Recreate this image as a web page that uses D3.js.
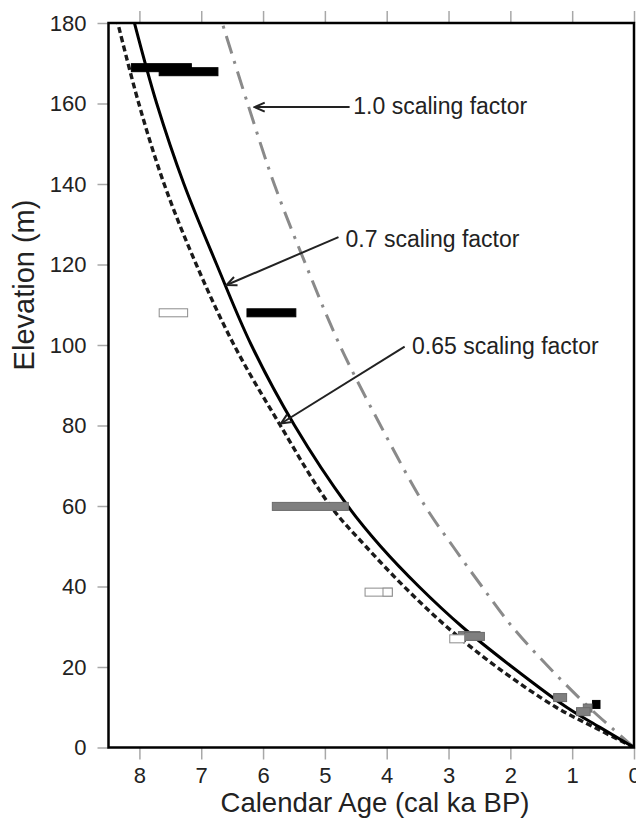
<!DOCTYPE html>
<html>
<head>
<meta charset="utf-8">
<script src="https://cdn.jsdelivr.net/npm/d3@7"></script>
<style>
  body { margin: 0; background: #fff; }
  svg { display: block; font-family: "Liberation Sans", Arial, sans-serif; }
</style>
</head>
<body>
<svg id="chart" width="636" height="827"></svg>
<script>
// uplift curves: age (cal ka BP) reached at each elevation
var curveElev = [0, 5, 10, 20, 30, 40, 50, 60, 80, 100, 120, 140, 160, 180];
var age065 = [0, 0.64, 1.26, 2.22, 3.03, 3.72, 4.34, 4.91, 5.72, 6.47, 7.08, 7.60, 8.01, 8.35];
var age070 = [0, 0.55, 1.09, 1.97, 2.78, 3.48, 4.10, 4.63, 5.49, 6.19, 6.75, 7.28, 7.72, 8.08];
var age100 = [0, 0.37, 0.73, 1.38, 1.97, 2.46, 2.93, 3.38, 4.10, 4.76, 5.31, 5.82, 6.25, 6.66];

// dated samples: [older age, younger age, elevation m]
var blackBars = [[8.13, 7.16, 168.9], [7.68, 6.73, 167.9], [6.26, 5.47, 108.0], [0.67, 0.55, 10.7]];
var greyBars = [[5.85, 4.62, 59.9], [2.84, 2.49, 27.8], [2.74, 2.42, 27.6], [1.30, 1.09, 12.4], [0.82, 0.68, 9.8], [0.93, 0.71, 8.9]];
var openBars = [[7.68, 7.22, 108.0], [4.35, 3.91, 38.6], [4.06, 3.91, 38.6], [2.98, 2.74, 27.0]];

var xTicks = [0, 1, 2, 3, 4, 5, 6, 7, 8];
var yTicks = [0, 20, 40, 60, 80, 100, 120, 140, 160, 180];
var curveLabels = ['1.0 scaling factor', '0.7 scaling factor', '0.65 scaling factor'];

var plotL = 108.5, plotR = 634, plotT = 23, plotB = 747.5;
var xs = d3.scaleLinear().domain([8.5, 0]).range([plotL, plotR]);
var ys = d3.scaleLinear().domain([0, 180]).range([plotB, plotT]);

var svg = d3.select('#chart');
var ink = '#222';

var defs = svg.append('defs');
defs.append('clipPath').attr('id', 'plot')
    .append('rect')
    .attr('x', plotL).attr('y', plotT)
    .attr('width', plotR - plotL).attr('height', plotB - plotT);

defs.append('marker')
    .attr('id', 'head')
    .attr('markerUnits', 'userSpaceOnUse')
    .attr('viewBox', '-12 -6 14 12')
    .attr('refX', 0).attr('refY', 0)
    .attr('markerWidth', 14).attr('markerHeight', 12)
    .attr('orient', 'auto')
    .append('path')
    .attr('d', 'M-10,-4.5L0,0L-10,4.5')
    .attr('fill', 'none')
    .attr('stroke', ink)
    .attr('stroke-width', 2);

// axes (ticks only, frame drawn separately)
function styleAxis(g) {
    g.select('.domain').remove();
    g.attr('font-family', null);
    g.selectAll('.tick line').attr('stroke', '#a8a8a8').attr('stroke-width', 1.5);
    g.selectAll('.tick text').attr('fill', ink).style('font-size', '22px');
}

svg.append('g')
    .attr('transform', 'translate(0,' + plotB + ')')
    .call(d3.axisBottom(xs).tickValues(xTicks).tickSize(12).tickPadding(7.5).tickFormat(d3.format('d')))
    .call(styleAxis);

svg.append('g')
    .attr('transform', 'translate(0,' + plotT + ')')
    .call(d3.axisTop(xs).tickValues(xTicks).tickSize(12).tickFormat(''))
    .call(styleAxis);

svg.append('g')
    .attr('transform', 'translate(' + plotL + ',0)')
    .call(d3.axisLeft(ys).tickValues(yTicks).tickSize(11).tickPadding(11))
    .call(styleAxis);

// curves
var line = d3.line()
    .x(function (d) { return xs(d[0]); })
    .y(function (d) { return ys(d[1]); })
    .curve(d3.curveCatmullRom.alpha(0.5));

function pairs(ages) {
    return ages.map(function (a, i) { return [a, curveElev[i]]; });
}

var curves = svg.append('g').attr('clip-path', 'url(#plot)');

curves.append('path')
    .datum(pairs(age100))
    .attr('d', line)
    .attr('fill', 'none')
    .attr('stroke', '#8a8a8a')
    .attr('stroke-width', 3)
    .attr('stroke-dasharray', '18,8,3,8');

curves.append('path')
    .datum(pairs(age065))
    .attr('d', line)
    .attr('fill', 'none')
    .attr('stroke', '#1a1a1a')
    .attr('stroke-width', 3.4)
    .attr('stroke-dasharray', '6,3.5');

curves.append('path')
    .datum(pairs(age070))
    .attr('d', line)
    .attr('fill', 'none')
    .attr('stroke', '#000')
    .attr('stroke-width', 3);

// sample bars
var barH = 8;
function drawBars(rows, fill, stroke) {
    svg.append('g').selectAll('rect').data(rows)
        .enter()
        .append('rect')
        .attr('x', function (d) { return xs(d[0]); })
        .attr('width', function (d) { return xs(d[1]) - xs(d[0]); })
        .attr('y', function (d) { return ys(d[2]) - barH / 2; })
        .attr('height', barH)
        .attr('fill', fill)
        .attr('stroke', stroke)
        .attr('stroke-width', 1);
}
drawBars(blackBars, '#000', '#000');
drawBars(greyBars, '#7f7f7f', '#6a6a6a');
drawBars(openBars, '#fff', '#8c8c8c');

// annotations with arrows, in data units
var notes = [
    { tail: [4.60, 159.1], tip: [6.135, 159.1], text: [4.54, 157.3] },
    { tail: [4.78, 126.8], tip: [6.59, 114.9], text: [4.665, 124.3] },
    { tail: [3.71, 99.6], tip: [5.71, 80.5], text: [3.59, 97.8] }
];

notes.forEach(function (n, i) {
    svg.append('line')
        .attr('x1', xs(n.tail[0])).attr('y1', ys(n.tail[1]))
        .attr('x2', xs(n.tip[0])).attr('y2', ys(n.tip[1]))
        .attr('stroke', ink)
        .attr('stroke-width', 2)
        .attr('marker-end', 'url(#head)');
    svg.append('text')
        .attr('x', xs(n.text[0]))
        .attr('y', ys(n.text[1]))
        .attr('fill', ink)
        .style('font-size', '23px')
        .text(curveLabels[i]);
});

// frame
svg.append('rect')
    .attr('x', plotL).attr('y', plotT)
    .attr('width', plotR - plotL).attr('height', plotB - plotT)
    .attr('fill', 'none')
    .attr('stroke', '#000')
    .attr('stroke-width', 2.5);

// axis titles
svg.append('text')
    .attr('x', 375).attr('y', 812)
    .attr('text-anchor', 'middle')
    .attr('fill', ink)
    .style('font-size', '27.5px')
    .text('Calendar Age (cal ka BP)');

svg.append('text')
    .attr('transform', 'translate(34,285) rotate(-90)')
    .attr('text-anchor', 'middle')
    .attr('fill', ink)
    .style('font-size', '29px')
    .text('Elevation (m)');
</script>
</body>
</html>
